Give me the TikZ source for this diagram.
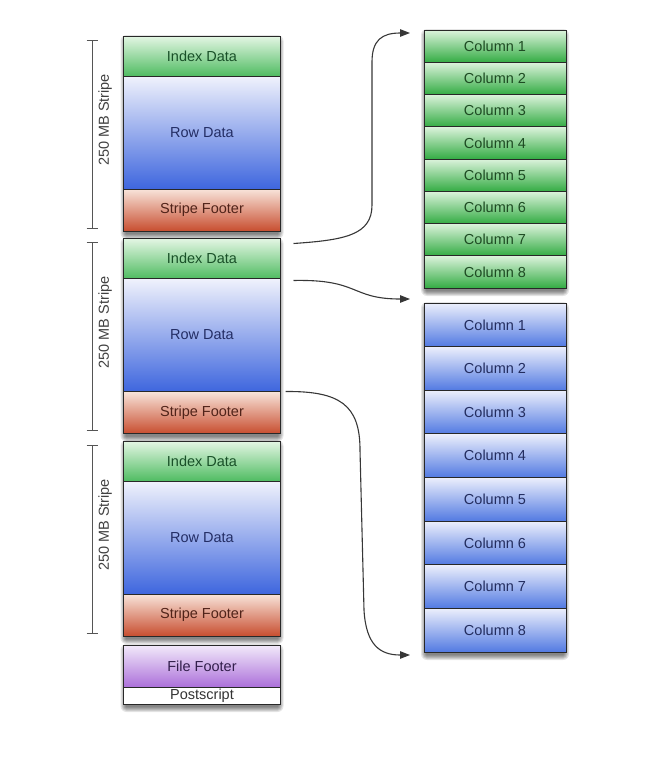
\documentclass[tikz,border=0pt]{standalone}
\usepackage{fontspec}
\setmainfont{Liberation Sans}
\usetikzlibrary{calc,arrows.meta,backgrounds}
\definecolor{cellline}{RGB}{40,40,40}
\definecolor{idxtop}{RGB}{228,246,228}
\definecolor{idxbot}{RGB}{80,188,98}
\definecolor{idxtext}{RGB}{25,80,40}
\definecolor{rowtop}{RGB}{240,242,252}
\definecolor{rowbot}{RGB}{62,102,222}
\definecolor{rowtext}{RGB}{35,45,100}
\definecolor{foottop}{RGB}{248,228,218}
\definecolor{footbot}{RGB}{200,78,48}
\definecolor{foottext}{RGB}{80,35,25}
\definecolor{fftop}{RGB}{242,234,250}
\definecolor{ffbot}{RGB}{172,112,218}
\definecolor{fftext}{RGB}{50,30,75}
\definecolor{gtop}{RGB}{220,243,220}
\definecolor{gbot}{RGB}{52,172,68}
\definecolor{gtext}{RGB}{30,75,35}
\definecolor{btop}{RGB}{236,239,252}
\definecolor{bbot}{RGB}{82,122,226}
\definecolor{btext}{RGB}{35,45,95}
\definecolor{dimgray}{RGB}{85,85,85}
\definecolor{linkgray}{RGB}{55,55,55}
\newcommand{\fakeshadow}[2]{%
  \foreach \k in {1,...,6}
    \fill[black,opacity=.1,rounded corners=\k pt]
      ($(#1)+(3-\k,5-\k)$) rectangle ($(#2)+(\k-3,\k+2)$);}
\tikzset{
  cell/.style={draw=cellline, line width=0.9pt, minimum width=157pt,
    inner sep=0pt, outer sep=0pt, font=\fontsize{14.5}{16}\selectfont},
  idxcell/.style={cell, minimum height=40pt, top color=idxtop, bottom color=idxbot, text=idxtext},
  rowcell/.style={cell, minimum height=113pt, top color=rowtop, bottom color=rowbot, text=rowtext},
  footcell/.style={cell, minimum height=42pt, top color=foottop, bottom color=footbot, text=foottext},
  ffcell/.style={cell, minimum height=42pt, top color=fftop, bottom color=ffbot, text=fftext},
  pscell/.style={cell, minimum height=17pt, fill=white, text=black!80},
  colcell/.style={draw=cellline, line width=0.9pt, minimum width=142pt,
    inner sep=0pt, outer sep=0pt, font=\fontsize{14.5}{16}\selectfont},
  gcol/.style={colcell, minimum height=32.25pt, top color=gtop, bottom color=gbot, text=gtext},
  bcol/.style={colcell, minimum height=43.625pt, top color=btop, bottom color=bbot, text=btext},
  dim/.style={draw=dimgray, line width=0.9pt},
  dimlabel/.style={rotate=90, text=black!75, font=\fontsize{14.5}{16}\selectfont, inner sep=0pt},
  link/.style={draw=linkgray, line width=1.1pt, -{Triangle[length=10pt,width=7.5pt]}},
}
\begin{document}
\begin{tikzpicture}[x=1pt,y=-1pt]
\useasboundingbox (0,0) rectangle (661,766);
% left stack
\foreach \s/\t in {1/36,2/238.5,3/441}{
  \node[idxcell, anchor=north] (i\s) at (202,\t) {Index Data};
  \node[rowcell, anchor=north] (r\s) at (i\s.south) {Row Data};
  \node[footcell, anchor=north] (f\s) at (r\s.south) {Stripe Footer};
  \draw[dim] (92,\t+4) -- (92,\t+192);
  \draw[dim] (86.5,\t+4) -- (97.5,\t+4);
  \draw[dim] (86.5,\t+192) -- (97.5,\t+192);
  \node[dimlabel] (d\s) at (105,\t+84) {250 MB Stripe};
}
\node[ffcell, anchor=north] (ff) at (202,645) {File Footer};
\node[pscell, anchor=north] (ps) at (ff.south) {Postscript};
% right columns
\foreach \i in {1,...,8}{
  \node[gcol] (g\i) at (495,{30+32.25*(\i-0.5)}) {Column \i};
}
\foreach \i in {1,...,8}{
  \node[bcol] (b\i) at (495,{303+43.625*(\i-0.5)}) {Column \i};
}
% shadows
\begin{scope}[on background layer]
  \fakeshadow{i1.north west}{f1.south east}
  \fakeshadow{i2.north west}{f2.south east}
  \fakeshadow{i3.north west}{f3.south east}
  \fakeshadow{ff.north west}{ps.south east}
  \fakeshadow{g1.north west}{g8.south east}
  \fakeshadow{b1.north west}{b8.south east}
\end{scope}
% connectors
\coordinate (s1) at ($(i2.north east)+(13,5)$);
\coordinate (s2) at ($(r2.north east)+(13,2)$);
\coordinate (s3) at ($(f2.north east)+(5,0)$);
\coordinate (e1) at ($(g1.north west)+(-14,3)$);
\coordinate (e2) at ($(b1.north west)+(-14,-4)$);
\coordinate (e3) at ($(b8.south west)+(-14,3)$);
\draw[link] (s1) .. controls (345,240) and (372,235) .. (372,205) -- (372,62)
  .. controls (372,40) and (382,33) .. (e1);
\draw[link] (s2) .. controls (360,279) and (350,299) .. (e2);
\draw[link] (s3) .. controls (340,391) and (360,405) .. (360,450) -- (364,610)
  .. controls (366,645) and (380,655) .. (e3);
\end{tikzpicture}
\end{document}
